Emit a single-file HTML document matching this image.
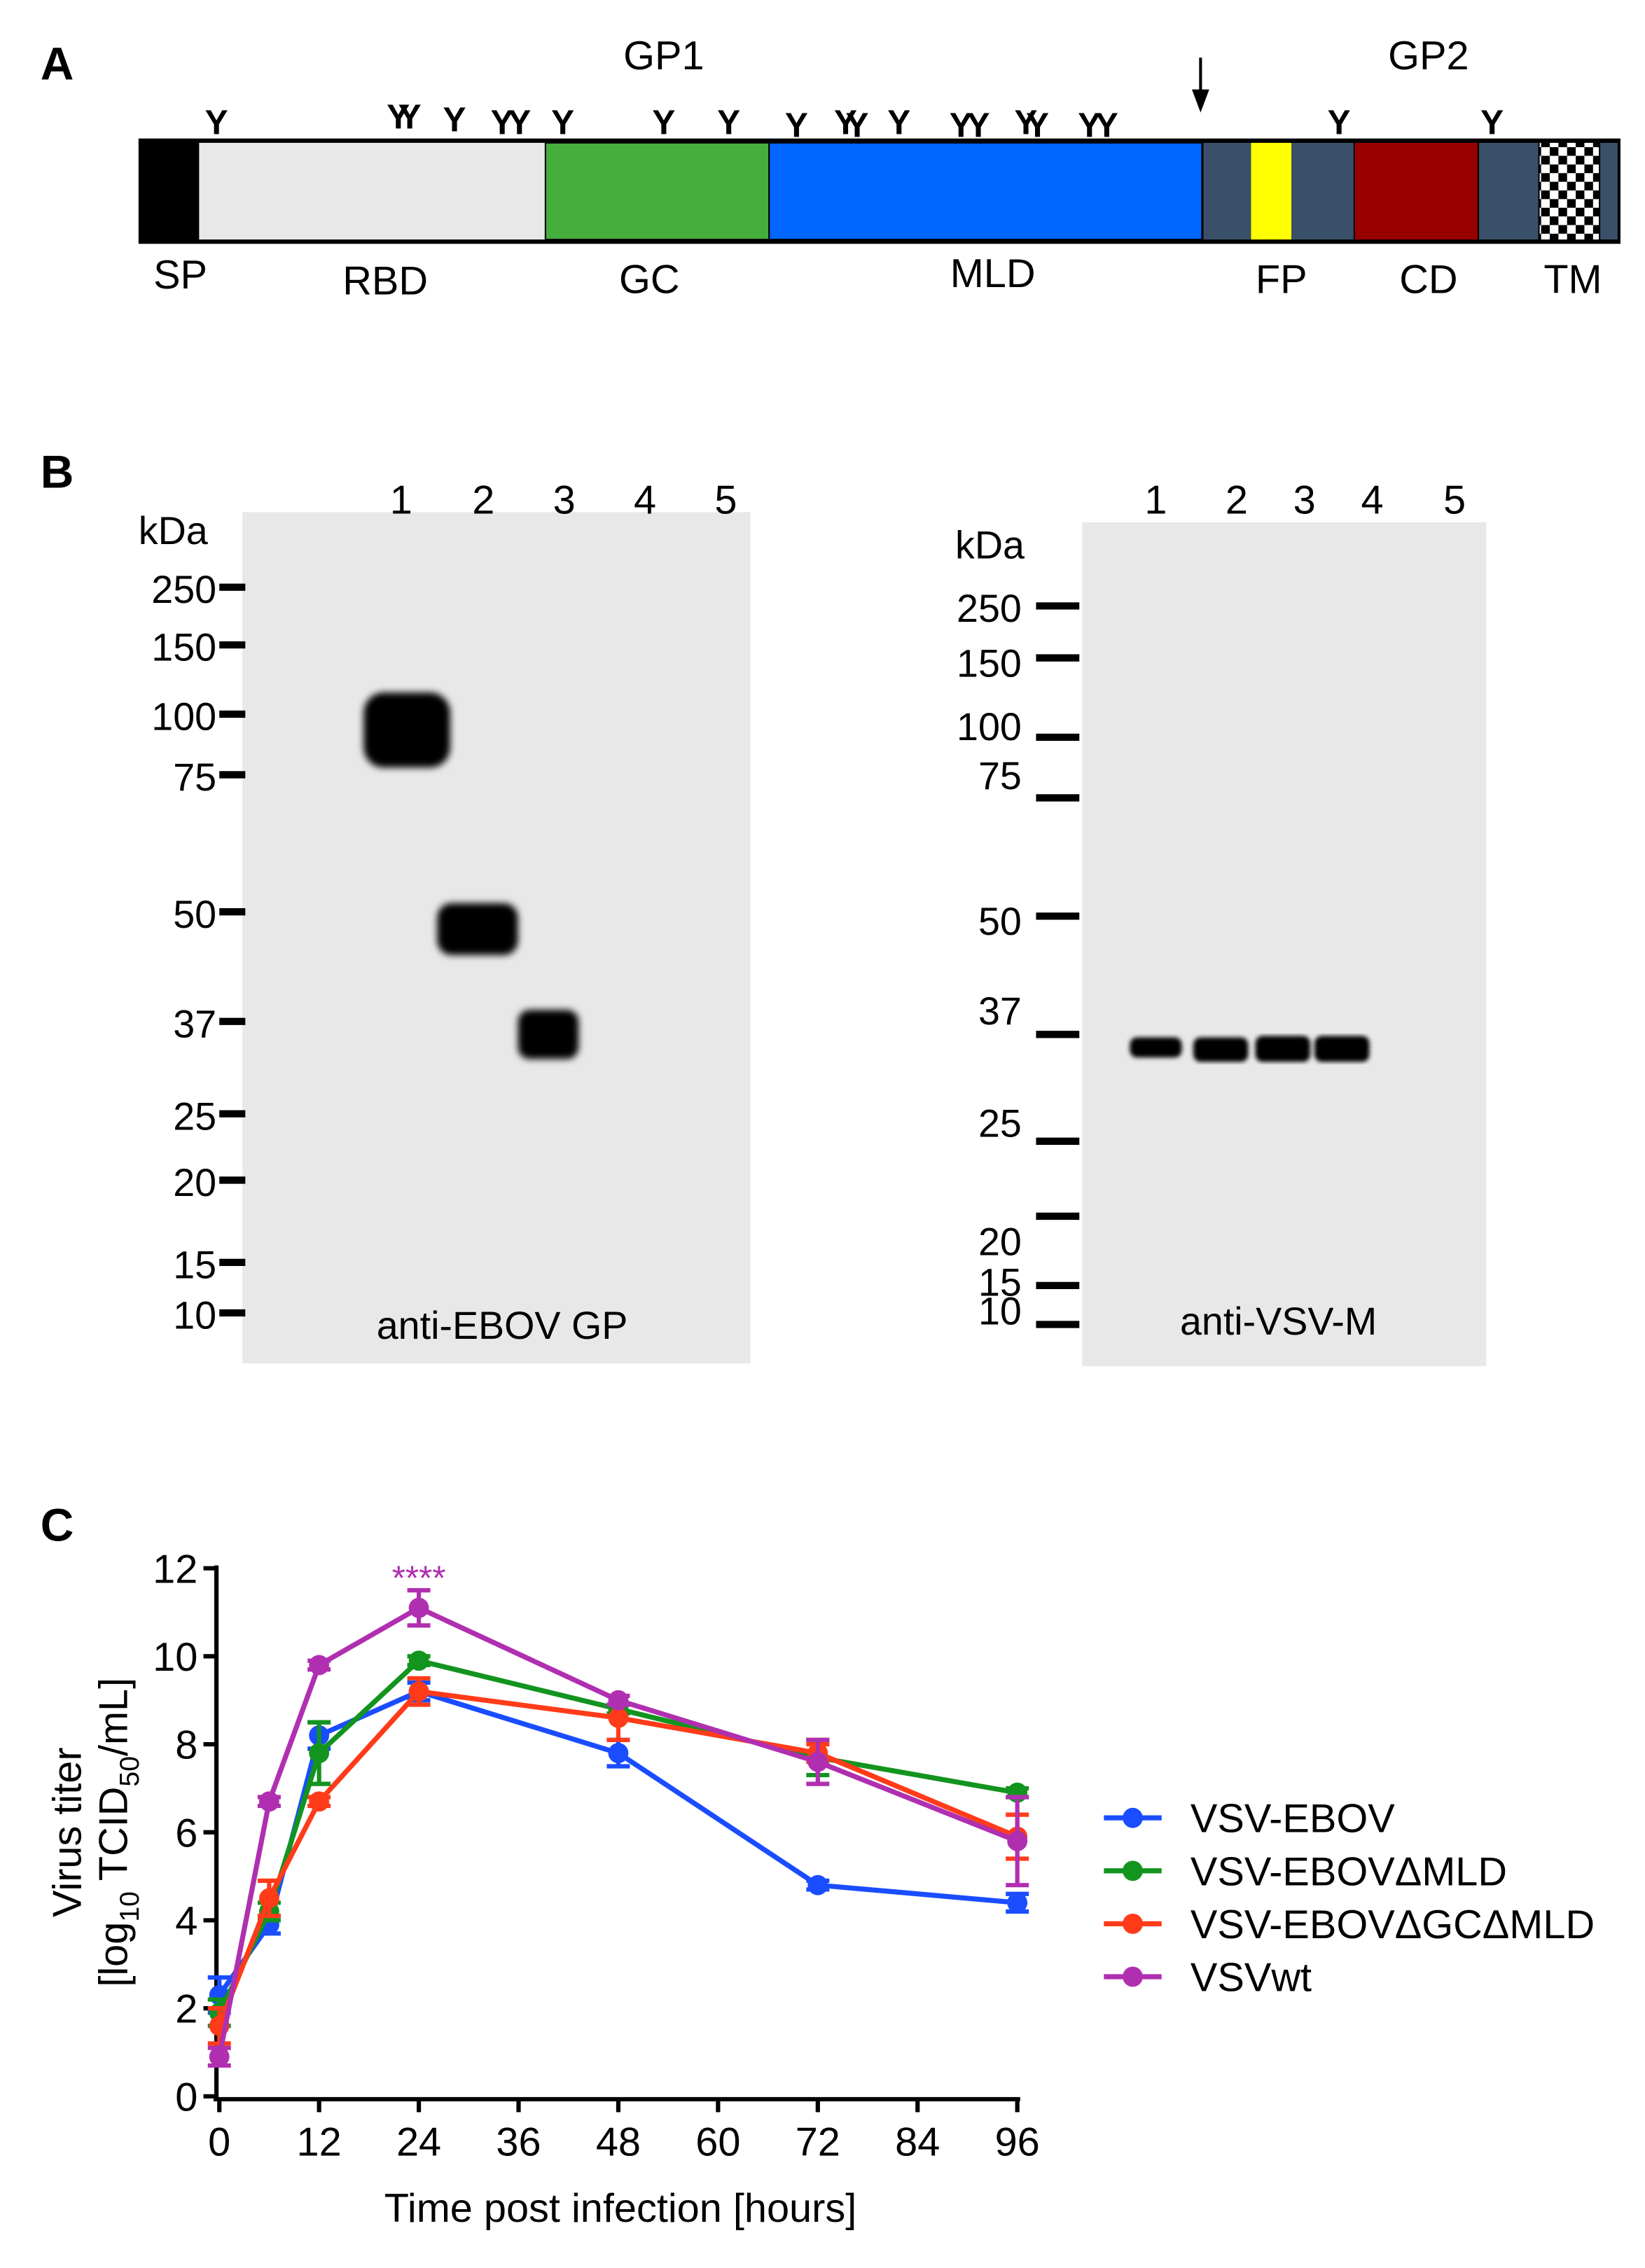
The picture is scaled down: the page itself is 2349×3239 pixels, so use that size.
<!DOCTYPE html>
<html><head><meta charset="utf-8"><style>
html,body{margin:0;padding:0;background:#fff}
svg{display:block}
text{font-family:"Liberation Sans",Arial,sans-serif}
</style></head><body>
<svg width="2349" height="3239" viewBox="0 0 1140 1572" preserveAspectRatio="none" xmlns="http://www.w3.org/2000/svg">
<defs>
<pattern id="chk" width="12" height="12" patternUnits="userSpaceOnUse"><rect width="12" height="12" fill="#fff"/><rect width="6" height="6" fill="#000"/><rect x="6" y="6" width="6" height="6" fill="#000"/></pattern>
<filter id="blur"><feGaussianBlur stdDeviation="2.5"/></filter>
<filter id="blur2"><feGaussianBlur stdDeviation="1.5"/></filter>
</defs>
<!-- Panel A -->
<text x="28" y="55" font-size="32" font-weight="bold">A</text>
<text x="460" y="48" font-size="28" text-anchor="middle">GP1</text>
<text x="990" y="48" font-size="28" text-anchor="middle">GP2</text>
<line x1="832" y1="40" x2="832" y2="68" stroke="#000" stroke-width="2"/>
<polygon points="826,62 838,62 832,78" fill="#000"/>
<g stroke="#000" stroke-width="2">
<rect x="97" y="97" width="1025" height="71" fill="#000"/>
<rect x="138" y="99" width="240" height="67" fill="#e8e8e8" stroke="none"/>
<rect x="378" y="99" width="155" height="67" fill="#45ae3c" stroke="#000" stroke-width="1"/>
<rect x="533" y="99" width="300" height="67" fill="#0066ff" stroke="#000" stroke-width="1"/>
<rect x="834" y="99" width="33" height="67" fill="#3a5068" stroke="none"/>
<rect x="867" y="99" width="28" height="67" fill="#ffff00" stroke="none"/>
<rect x="895" y="99" width="43" height="67" fill="#3a5068" stroke="none"/>
<rect x="939" y="99" width="85" height="67" fill="#990000" stroke="none"/>
<rect x="1025" y="99" width="41" height="67" fill="#3a5068" stroke="none"/>
<rect x="1067" y="99" width="41" height="67" fill="url(#chk)" stroke="none"/>
<rect x="1109" y="99" width="12" height="67" fill="#3a5068" stroke="none"/>
</g>
<g font-size="24" font-weight="bold" text-anchor="middle">
<text x="150" y="93">Y</text><text x="276" y="89">Y</text><text x="284" y="89">Y</text><text x="315" y="91">Y</text>
<text x="348" y="93">Y</text><text x="360" y="93">Y</text><text x="390" y="93">Y</text><text x="460" y="93">Y</text>
<text x="505" y="93">Y</text><text x="552" y="95">Y</text><text x="586" y="93">Y</text><text x="594" y="95">Y</text>
<text x="623" y="93">Y</text><text x="666" y="95">Y</text><text x="678" y="95">Y</text><text x="711" y="93">Y</text>
<text x="719" y="95">Y</text><text x="755" y="95">Y</text><text x="767" y="95">Y</text><text x="928" y="93">Y</text><text x="1034" y="93">Y</text>
</g>
<g font-size="28" text-anchor="middle">
<text x="125" y="200">SP</text><text x="267" y="204">RBD</text><text x="450" y="203">GC</text>
<text x="688" y="199">MLD</text><text x="888" y="203">FP</text><text x="990" y="203">CD</text><text x="1090" y="203">TM</text>
</g>
<!-- Panel B -->
<text x="28" y="338" font-size="32" font-weight="bold">B</text>
<rect x="168" y="355" width="352" height="590" fill="#e8e8e8"/>
<g font-size="28" text-anchor="middle">
<text x="278" y="356">1</text><text x="335" y="356">2</text><text x="391" y="356">3</text><text x="447" y="356">4</text><text x="503" y="356">5</text>
</g>
<text x="120" y="377" font-size="27" text-anchor="middle">kDa</text>
<g font-size="27" text-anchor="end">
<text x="150" y="418">250</text><text x="150" y="458">150</text><text x="150" y="506">100</text><text x="150" y="548">75</text>
<text x="150" y="643">50</text><text x="150" y="719">37</text><text x="150" y="783">25</text><text x="150" y="829">20</text>
<text x="150" y="886">15</text><text x="150" y="921">10</text>
</g>
<g stroke="#000" stroke-width="5">
<line x1="152" y1="407" x2="170" y2="407"/><line x1="152" y1="447" x2="170" y2="447"/><line x1="152" y1="495" x2="170" y2="495"/><line x1="152" y1="537" x2="170" y2="537"/>
<line x1="152" y1="632" x2="170" y2="632"/><line x1="152" y1="708" x2="170" y2="708"/><line x1="152" y1="772" x2="170" y2="772"/><line x1="152" y1="818" x2="170" y2="818"/>
<line x1="152" y1="875" x2="170" y2="875"/><line x1="152" y1="910" x2="170" y2="910"/>
</g>
<g filter="url(#blur)" fill="#000">
<rect x="252" y="480" width="60" height="52" rx="14"/>
<rect x="303" y="626" width="56" height="36" rx="10"/>
<rect x="359" y="700" width="42" height="34" rx="8"/>
</g>
<text x="348" y="928" font-size="27" text-anchor="middle">anti-EBOV GP</text>

<rect x="750" y="362" width="280" height="585" fill="#e8e8e8"/>
<g font-size="28" text-anchor="middle">
<text x="801" y="356">1</text><text x="857" y="356">2</text><text x="904" y="356">3</text><text x="951" y="356">4</text><text x="1008" y="356">5</text>
</g>
<text x="686" y="387" font-size="27" text-anchor="middle">kDa</text>
<g font-size="27" text-anchor="end">
<text x="708" y="431">250</text><text x="708" y="469">150</text><text x="708" y="513">100</text><text x="708" y="547">75</text>
<text x="708" y="648">50</text><text x="708" y="710">37</text><text x="708" y="788">25</text><text x="708" y="870">20</text>
<text x="708" y="898">15</text><text x="708" y="918">10</text>
</g>
<g stroke="#000" stroke-width="5">
<line x1="718" y1="420" x2="748" y2="420"/><line x1="718" y1="456" x2="748" y2="456"/><line x1="718" y1="511" x2="748" y2="511"/><line x1="718" y1="553" x2="748" y2="553"/>
<line x1="718" y1="635" x2="748" y2="635"/><line x1="718" y1="717" x2="748" y2="717"/><line x1="718" y1="791" x2="748" y2="791"/><line x1="718" y1="843" x2="748" y2="843"/>
<line x1="718" y1="891" x2="748" y2="891"/><line x1="718" y1="918" x2="748" y2="918"/>
</g>
<g filter="url(#blur2)" fill="#000">
<rect x="783" y="719" width="36" height="14" rx="5"/>
<rect x="827" y="719" width="38" height="17" rx="5"/>
<rect x="870" y="718" width="38" height="18" rx="5"/>
<rect x="911" y="718" width="38" height="18" rx="5"/>
</g>
<text x="886" y="925" font-size="27" text-anchor="middle">anti-VSV-M</text>

<!-- Panel C -->
<text x="28" y="1068" font-size="32" font-weight="bold">C</text>
<g id="chart"></g>
</svg>
<script>
(function(){
var g=document.getElementById('chart'),NS='http://www.w3.org/2000/svg';
function el(t,a,txt){var e=document.createElementNS(NS,t);for(var k in a)e.setAttribute(k,a[k]);if(txt!=null)e.textContent=txt;g.appendChild(e);return e;}
function X(h){return 152+h*(553/96);} function Y(v){return 1453-v*30.5;}
el('line',{x1:150,y1:1085,x2:150,y2:1455,stroke:'#000','stroke-width':3});
el('line',{x1:148,y1:1455,x2:707,y2:1455,stroke:'#000','stroke-width':3});
for(var v=0;v<=12;v+=2){el('line',{x1:141,y1:Y(v),x2:150,y2:Y(v),stroke:'#000','stroke-width':3});
 el('text',{x:137,y:Y(v)+10,'font-size':28,'text-anchor':'end'},String(v));}
for(var h=0;h<=96;h+=12){el('line',{x1:X(h),y1:1455,x2:X(h),y2:1464,stroke:'#000','stroke-width':3});
 el('text',{x:X(h),y:1494,'font-size':28,'text-anchor':'middle'},String(h));}
el('text',{x:430,y:1540,'font-size':28,'text-anchor':'middle'},'Time post infection [hours]');
el('text',{transform:'translate(56,1270) rotate(-90)','font-size':28,'text-anchor':'middle'},'Virus titer');
var t2=el('text',{transform:'translate(88,1270) rotate(-90)','font-size':28,'text-anchor':'middle'},null);
t2.innerHTML='[log<tspan font-size="19" dy="8">10</tspan><tspan dy="-8"> TCID</tspan><tspan font-size="19" dy="8">50</tspan><tspan dy="-8">/mL]</tspan>';
var hs=[0,6,12,24,48,72,96];
var S=[
['#1a4dff',[2.3,3.9,8.2,9.2,7.8,4.8,4.4],[0.4,0.2,0.3,0.2,0.3,0.1,0.2],'VSV-EBOV'],
['#12941f',[1.9,4.2,7.8,9.9,8.8,7.7,6.9],[0.3,0.2,0.7,0.1,0.1,0.4,0.1],'VSV-EBOV\u0394MLD'],
['#ff3b1a',[1.6,4.5,6.7,9.2,8.6,7.8,5.9],[0.4,0.4,0.1,0.3,0.5,0.2,0.5],'VSV-EBOV\u0394GC\u0394MLD'],
['#b02fb0',[0.9,6.7,9.8,11.1,9.0,7.6,5.8],[0.2,0.1,0.1,0.4,0.1,0.5,1.0],'VSVwt']];
S.forEach(function(s,i){
 var p=hs.map(function(h,j){return X(h)+','+Y(s[1][j]);}).join(' ');
 el('polyline',{points:p,fill:'none',stroke:s[0],'stroke-width':3.5});
 hs.forEach(function(h,j){var x=X(h),y=Y(s[1][j]),e=s[2][j]*30.5;
  el('line',{x1:x,y1:y-e,x2:x,y2:y+e,stroke:s[0],'stroke-width':3});
  el('line',{x1:x-8,y1:y-e,x2:x+8,y2:y-e,stroke:s[0],'stroke-width':3});
  el('line',{x1:x-8,y1:y+e,x2:x+8,y2:y+e,stroke:s[0],'stroke-width':3});
  el('circle',{cx:x,cy:y,r:7,fill:s[0]});});
 var ly=1260+i*36.7;
 el('line',{x1:765,y1:ly,x2:805,y2:ly,stroke:s[0],'stroke-width':3.5});
 el('circle',{cx:785,cy:ly,r:7,fill:s[0]});
 el('text',{x:825,y:ly+10,'font-size':28},s[3]);
});
el('text',{x:X(24),y:1102,'font-size':24,'text-anchor':'middle',fill:'#b02fb0'},'****');
})();
</script>
</body></html>
